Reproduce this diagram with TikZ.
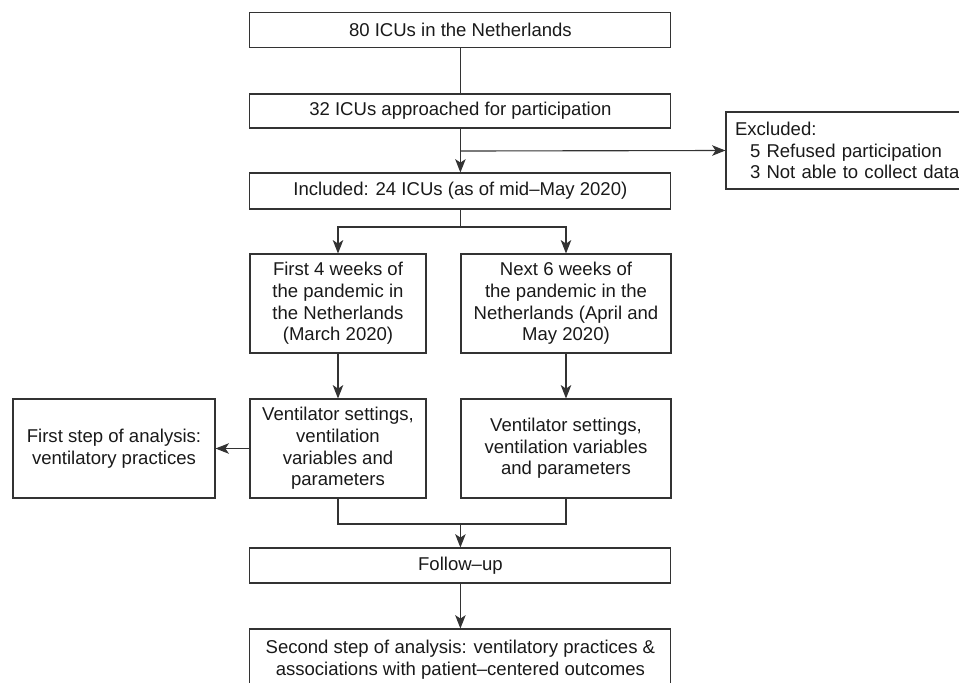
\documentclass[tikz,border=0pt]{standalone}
\usepackage{fontspec}
\setmainfont{Liberation Sans}
\usetikzlibrary{arrows.meta}

\begin{document}
\begin{tikzpicture}[
    x=1cm,y=1cm,
    >={Stealth[length=9.5pt,width=7.5pt,inset=2.5pt]},
    arrow/.style={->, line width=0.8pt, draw=black!80},
    link/.style={line width=0.8pt, draw=black!80},
    stage/.style={
        draw=black!80,
        line width=0.8pt,
        text=black!90,
        align=center,
        inner sep=0pt,
        font=\fontsize{13.2}{15.4}\selectfont
    },
    wide/.style={stage, minimum width=10.525cm},
    half/.style={stage, minimum height=2.475cm}
]
    \useasboundingbox (0,0) rectangle (23.975,-17.05);

    \node[wide, minimum height=0.875cm] (icus) at (11.51,-0.74) {80 ICUs in the Netherlands};
    \node[wide, minimum height=0.85cm] (approached) at (11.51,-2.775) {32 ICUs approached for participation};
    \node[wide, minimum height=0.9cm] (included) at (11.51,-4.775) {Included: 24 ICUs (as of mid--May 2020)};

    \node[stage, align=left, text width=5.9cm, inner xsep=0.225cm,
        minimum height=1.925cm] (excluded) at (21.325,-3.7625)
        {Excluded:\\\hspace*{0.375cm}5 Refused participation\\\hspace*{0.375cm}3 Not able to collect data};

    \node[half, minimum width=4.4cm] (march) at (8.45,-7.5875)
        {First 4 weeks of\\the pandemic in\\the Netherlands\\(March 2020)};
    \node[half, minimum width=5.25cm] (aprilmay) at (14.15,-7.5875)
        {Next 6 weeks of\\the pandemic in the\\Netherlands (April and\\May 2020)};

    \node[half, minimum width=4.4cm] (ventfirst) at (8.45,-11.2125)
        {Ventilator settings,\\ventilation\\variables and\\parameters};
    \node[half, minimum width=5.25cm] (ventnext) at (14.15,-11.2125)
        {Ventilator settings,\\ventilation variables\\and parameters};
    \node[half, minimum width=5.05cm] (firststep) at (2.85,-11.2125)
        {First step of analysis:\\ventilatory practices};

    \node[wide, minimum height=0.875cm] (followup) at (11.51,-14.1375) {Follow--up};
    \node[wide, minimum height=1.55cm] (secondstep) at (11.51,-16.5)
        {Second step of analysis: ventilatory practices \&\\associations with patient--centered outcomes};

    % split and join points
    \coordinate (split) at (11.51,-3.775);
    \coordinate (fork) at (11.51,-5.675);
    \coordinate (join) at (11.51,-13.1);

    \draw[link] (icus.south) -- (approached.north);
    \draw[arrow] (approached.south) -- (included.north);
    \draw[arrow] (split) -- (excluded.west);

    \draw[link] (included.south) -- (fork);
    \draw[arrow] (fork) -| (march.north);
    \draw[arrow] (fork) -| (aprilmay.north);

    \draw[arrow] (march.south) -- (ventfirst.north);
    \draw[arrow] (aprilmay.south) -- (ventnext.north);
    \draw[arrow] (ventfirst.west) -- (firststep.east);

    \draw[link] (ventfirst.south) |- (join) -| (ventnext.south);
    \draw[arrow] (join) -- (followup.north);
    \draw[arrow] (followup.south) -- (secondstep.north);
\end{tikzpicture}
\end{document}
